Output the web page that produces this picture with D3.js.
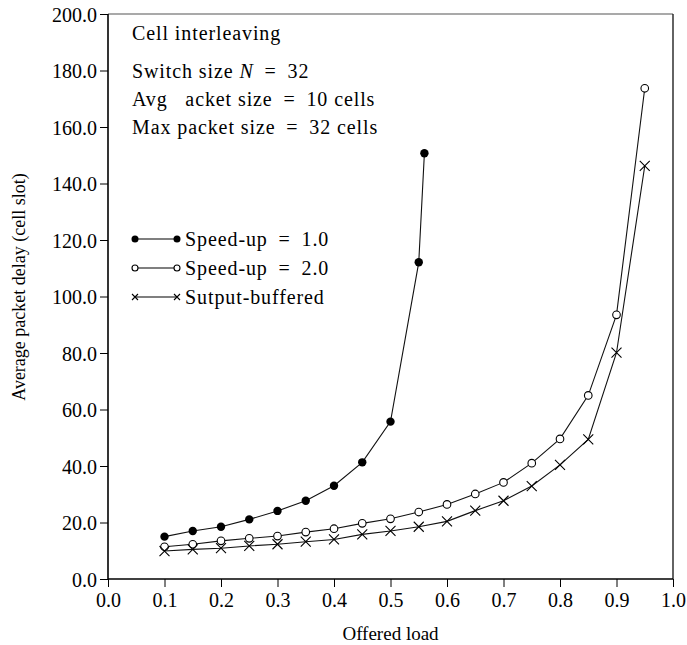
<!DOCTYPE html>
<html>
<head>
<meta charset="utf-8">
<script src="https://cdn.jsdelivr.net/npm/d3@7"></script>
<style>
  body { margin: 0; background: #fff; }
  svg text { font-family: "Liberation Serif", "Times New Roman", serif; fill: #000; }
</style>
</head>
<body>
<div id="chart"></div>
<script>
// offered load values for each series
var loadFast = [0.1, 0.15, 0.2, 0.25, 0.3, 0.35, 0.4, 0.45, 0.5, 0.55, 0.56];
var delayFast = [15.0, 17.0, 18.5, 21.1, 24.1, 27.7, 33.0, 41.3, 55.7, 112.1, 150.7];

var loadAll = [0.1, 0.15, 0.2, 0.25, 0.3, 0.35, 0.4, 0.45, 0.5, 0.55, 0.6, 0.65, 0.7, 0.75, 0.8, 0.85, 0.9, 0.95];
var delaySpeed2 = [11.4, 12.3, 13.5, 14.4, 15.2, 16.6, 17.8, 19.7, 21.3, 23.7, 26.4, 30.1, 34.2, 41.0, 49.6, 65.0, 93.5, 173.7];
var delayOutput = [9.9, 10.5, 10.9, 11.7, 12.3, 13.2, 14.0, 15.8, 17.0, 18.5, 20.4, 24.2, 27.7, 32.9, 40.4, 49.4, 80.1, 146.2];

// thin spaces around "=" to mimic the wider math spacing
var seriesNames = ['Speed-up \u2009=\u2009 1.0', 'Speed-up \u2009=\u2009 2.0', 'Sutput-buffered'];
var xTicks = [0, 0.1, 0.2, 0.3, 0.4, 0.5, 0.6, 0.7, 0.8, 0.9, 1.0];
var yTicks = [0, 20, 40, 60, 80, 100, 120, 140, 160, 180, 200];
var notes = ['Cell interleaving', 'Switch size N \u2009=\u2009 32', 'Avg   acket size \u2009=\u2009 10 cells', 'Max packet size \u2009=\u2009 32 cells'];

var width = 687, height = 645;
var margin = { top: 14, right: 14, bottom: 66, left: 108 };
var w = width - margin.left - margin.right;
var h = height - margin.top - margin.bottom;

var svg = d3.select('#chart').append('svg')
  .attr('width', width)
  .attr('height', height);

var g = svg.append('g')
  .attr('transform', 'translate(' + margin.left + ',' + margin.top + ')');

var x = d3.scaleLinear().domain([0, 1]).range([0, w]);
var y = d3.scaleLinear().domain([0, 200]).range([h, 0]);

// frame (top and right)
g.append('line').attr('x1', 0).attr('x2', w).attr('y1', 0).attr('y2', 0)
  .attr('stroke', '#555').attr('stroke-width', 1.2);
g.append('line').attr('x1', w).attr('x2', w).attr('y1', 0).attr('y2', h)
  .attr('stroke', '#222').attr('stroke-width', 1.4);

// axes
var xAxis = g.append('g')
  .attr('transform', 'translate(0,' + h + ')')
  .call(d3.axisBottom(x).tickValues(xTicks).tickFormat(d3.format('.1f')).tickSize(8).tickPadding(6));
var yAxis = g.append('g')
  .call(d3.axisLeft(y).tickValues(yTicks).tickFormat(d3.format('.1f')).tickSize(8).tickPadding(3));

[xAxis, yAxis].forEach(function(a) {
  a.select('.domain').attr('stroke', '#000').attr('stroke-width', 1.6);
  a.selectAll('.tick line').attr('stroke', '#000').attr('stroke-width', 1);
  a.selectAll('.tick text').attr('font-size', 20)
    .attr('font-family', '"Liberation Serif", serif');
});
xAxis.select('.domain').attr('d', 'M0,0H' + w);
yAxis.select('.domain').attr('d', 'M0,0V' + h);
yAxis.selectAll('.tick text').attr('dy', '0.35em');

// axis titles
svg.append('text')
  .attr('x', margin.left + x(0.5))
  .attr('y', 640)
  .attr('text-anchor', 'middle')
  .attr('font-size', 19)
  .text('Offered load');

svg.append('text')
  .attr('transform', 'translate(25,287) rotate(-90)')
  .attr('text-anchor', 'middle')
  .attr('font-size', 18)
  .text('Average packet delay (cell slot)');

// annotation block
var noteY = [40, 78, 106, 134];
notes.forEach(function(t, i) {
  var txt = g.append('text')
    .attr('x', 132 - margin.left)
    .attr('y', noteY[i] - margin.top)
    .attr('font-size', 20)
    .attr('letter-spacing', 0.9)
    .attr('xml:space', 'preserve')
    .style('white-space', 'pre');
  if (i === 1) {
    var parts = t.split('N');
    txt.append('tspan').text(parts[0]);
    txt.append('tspan').attr('font-style', 'italic').text('N');
    txt.append('tspan').text(parts[1]);
  } else {
    txt.text(t);
  }
});

var line = d3.line()
  .x(function(d) { return x(d[0]); })
  .y(function(d) { return y(d[1]); });

var fast = d3.zip(loadFast, delayFast);
var sp2 = d3.zip(loadAll, delaySpeed2);
var out = d3.zip(loadAll, delayOutput);

[fast, sp2, out].forEach(function(data) {
  g.append('path')
    .datum(data)
    .attr('d', line)
    .attr('fill', 'none')
    .attr('stroke', '#111')
    .attr('stroke-width', 1.1);
});

function drawMarker(sel, kind, size) {
  if (kind === 0) {
    sel.append('circle').attr('r', size).attr('fill', '#000');
  } else if (kind === 1) {
    sel.append('circle').attr('r', size).attr('fill', '#fff')
      .attr('stroke', '#000').attr('stroke-width', 1.1);
  } else {
    sel.append('path')
      .attr('d', 'M' + (-size) + ',' + (-size) + 'L' + size + ',' + size +
        'M' + (-size) + ',' + size + 'L' + size + ',' + (-size))
      .attr('stroke', '#000').attr('stroke-width', 1.1).attr('fill', 'none');
  }
}

[fast, sp2, out].forEach(function(data, k) {
  g.selectAll('.m' + k)
    .data(data)
    .enter()
    .append('g')
    .attr('class', 'm' + k)
    .attr('transform', function(d) { return 'translate(' + x(d[0]) + ',' + y(d[1]) + ')'; })
    .each(function() {
      drawMarker(d3.select(this), k, k === 0 ? 4.2 : (k === 1 ? 3.8 : 5));
    });
});

// legend
var legY = [239, 268, 297];
seriesNames.forEach(function(name, k) {
  var lg = svg.append('g').attr('transform', 'translate(135,' + legY[k] + ')');
  lg.append('line').attr('x1', 0).attr('x2', 42).attr('y1', 0).attr('y2', 0)
    .attr('stroke', '#000').attr('stroke-width', 1.1);
  drawMarker(lg.append('g'), k, k === 0 ? 3.5 : 3);
  drawMarker(lg.append('g').attr('transform', 'translate(42,0)'), k, k === 0 ? 3.5 : 3);
  lg.append('text')
    .attr('x', 50)
    .attr('y', 7)
    .attr('font-size', 20)
    .attr('letter-spacing', 0.9)
    .attr('xml:space', 'preserve')
    .style('white-space', 'pre')
    .text(name);
});
</script>
</body>
</html>
